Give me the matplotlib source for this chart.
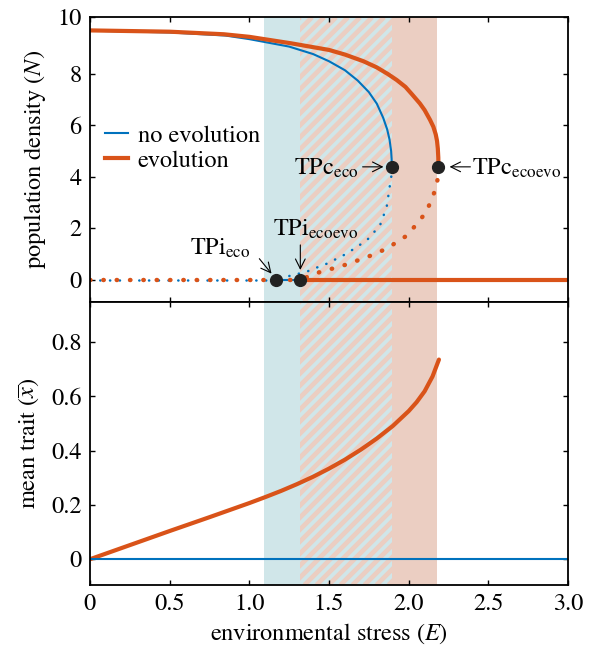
import numpy as np
import matplotlib
matplotlib.use('Agg')
import matplotlib.pyplot as plt
from matplotlib.patches import Rectangle

# ---------------- data ----------------
# no evolution: stable upper branch and unstable (dotted) branch
E_up_noevo = [0.0, 0.5, 0.85, 1.0, 1.25, 1.4, 1.5, 1.6, 1.68, 1.75, 1.80, 1.84, 1.865, 1.88, 1.89, 1.893, 1.894]
N_up_noevo = [9.69, 9.62, 9.5, 9.36, 9.07, 8.78, 8.5, 8.15, 7.75, 7.3, 6.85, 6.3, 5.85, 5.45, 5.0, 4.7, 4.39]
E_lo_noevo = [1.894, 1.892, 1.887, 1.862, 1.82, 1.737, 1.61, 1.486, 1.455, 1.36, 1.255, 1.17]
N_lo_noevo = [4.39, 4.05, 3.87, 2.83, 2.11, 1.53, 1.01, 0.62, 0.55, 0.31, 0.15, 0.0]

# evolution: stable upper branch and unstable (dotted) branch
E_up_evo = [0.0, 0.5, 0.84, 1.0, 1.26, 1.5, 1.6, 1.716, 1.8, 1.87, 1.925, 1.98, 2.02, 2.07,
            2.1, 2.134, 2.155, 2.17, 2.178, 2.183, 2.186, 2.187]
N_up_evo = [9.7, 9.65, 9.55, 9.45, 9.2, 8.94, 8.76, 8.5, 8.26, 8.0, 7.77, 7.5, 7.22, 6.86,
            6.6, 6.22, 5.95, 5.65, 5.4, 5.1, 4.75, 4.39]
E_lo_evo = [2.187, 2.185, 2.176, 2.155, 2.11, 2.06, 1.99, 1.86, 1.74, 1.59, 1.44, 1.32]
N_lo_evo = [4.39, 4.0, 3.74, 3.28, 2.63, 2.24, 1.72, 1.20, 0.88, 0.55, 0.29, 0.0]

# extinction state N = 0
E_axis = [0.0, 3.0]
E_TPi_eco, E_TPi_ecoevo = 1.17, 1.32

# mean trait
E_trait = [0.0, 0.25, 0.5, 0.75, 1.0, 1.1, 1.2, 1.3, 1.4, 1.5, 1.6, 1.7, 1.8, 1.9, 2.0, 2.05, 2.1, 2.15, 2.19]
x_trait = [0.0, 0.052, 0.104, 0.155, 0.207, 0.229, 0.252, 0.277, 0.304, 0.334, 0.367, 0.404,
           0.445, 0.491, 0.546, 0.579, 0.619, 0.674, 0.736]
x_noevo = [0.0, 0.0]

# tipping points
TP_E = [1.17, 1.32, 1.894, 2.187]
TP_N = [0.0, 0.0, 4.39, 4.39]

# shaded regions
teal_region = (1.09, 1.318)
hatch_region = (1.318, 1.894)
orange_region = (1.894, 2.18)

xticks = [0, 0.5, 1.0, 1.5, 2.0, 2.5, 3.0]
xticklabels = ['0', '0.5', '1.0', '1.5', '2.0', '2.5', '3.0']
yticks_top = [0, 2, 4, 6, 8]
yticks_bot = [0, 0.2, 0.4, 0.6, 0.8]
yticklabels_bot = ['0', '0.2', '0.4', '0.6', '0.8']

# ---------------- style ----------------
plt.rcParams['font.family'] = ['STIXGeneral', 'DejaVu Serif']
plt.rcParams['mathtext.fontset'] = 'stix'
FS = 17.5
plt.rcParams['font.size'] = FS

BLUE = '#0072BD'
ORANGE = '#D95319'
TEAL_BG = '#d0e6e9'
ORANGE_BG = '#ebcec2'

W, H = 593, 648
fig = plt.figure(figsize=(W / 100, H / 100), dpi=100)
L = 90 / W
Wd = (568 - 90) / W
ax1 = fig.add_axes([L, 1 - 301.5 / H, Wd, (301.5 - 17.3) / H])
ax2 = fig.add_axes([L, 1 - 585 / H, Wd, (585 - 301.5) / H])

ax1.set_xlim(0, 3)
ax1.set_ylim(-0.85, 10.21)
ax2.set_xlim(0, 3)
ax2.set_ylim(-0.095, 0.95)


def shade(ax):
    ylo, yhi = ax.get_ylim()
    ax.axvspan(*teal_region, color=TEAL_BG, lw=0, zorder=0)
    ax.axvspan(*hatch_region, color=TEAL_BG, lw=0, zorder=0)
    ax.axvspan(*orange_region, color=ORANGE_BG, lw=0, zorder=0)
    # diagonal stripes in the hatched region
    clip = Rectangle((hatch_region[0], ylo), hatch_region[1] - hatch_region[0], yhi - ylo,
                     transform=ax.transData, facecolor='none', edgecolor='none')
    ax.add_patch(clip)
    p0 = ax.transData.transform((0, 0))
    p1 = ax.transData.transform((1, 1))
    px_per_x = p1[0] - p0[0]
    px_per_y = p1[1] - p0[1]
    h_px = (yhi - ylo) * px_per_y
    period = 12.0 / px_per_x
    dx = h_px / px_per_x
    start = hatch_region[0] - dx - period
    for e in np.arange(start, hatch_region[1] + period, period):
        ln, = ax.plot([e, e + dx], [ylo, yhi], color=ORANGE_BG, lw=3.4,
                      solid_capstyle='butt', zorder=0.5)
        ln.set_clip_path(clip)


shade(ax1)
shade(ax2)

# ---------------- top panel ----------------
dot_o = (0, (0.1, 2.9))
dot_b = (0, (0.1, 3.8))
# no-evolution
ax1.plot([E_axis[0], E_TPi_eco], [0, 0], color=BLUE, lw=1.8, ls=dot_b, dash_capstyle='round', zorder=2)
ax1.plot([E_TPi_eco, E_axis[1]], [0, 0], color=BLUE, lw=1.5, zorder=2)
ax1.plot(E_lo_noevo, N_lo_noevo, color=BLUE, lw=1.8, ls=dot_b, dash_capstyle='round', zorder=2)
ax1.plot(E_up_noevo, N_up_noevo, color=BLUE, lw=1.5, zorder=2.2, label='no evolution')
# evolution
ax1.plot([E_axis[0], E_TPi_ecoevo], [0, 0], color=ORANGE, lw=3.2, ls=dot_o, dash_capstyle='round', zorder=2.5)
ax1.plot([E_TPi_ecoevo, E_axis[1]], [0, 0], color=ORANGE, lw=3.0, zorder=2.5)
ax1.plot(E_lo_evo, N_lo_evo, color=ORANGE, lw=3.2, ls=dot_o, dash_capstyle='round', zorder=2.5)
ax1.plot(E_up_evo, N_up_evo, color=ORANGE, lw=3.0, zorder=2.6, label='evolution')
# tipping points
ax1.plot(TP_E, TP_N, 'o', color='#222222', ms=8.5, zorder=5)

leg = ax1.legend(loc='center left', bbox_to_anchor=(0.031, 0.54), frameon=False,
                 handlelength=0.95, handletextpad=0.4, labelspacing=0.12,
                 borderpad=0, borderaxespad=0, fontsize=FS)

arrow = dict(arrowstyle='->', lw=0.8, color='black', shrinkA=0)
# TPc eco
ax1.annotate('', xy=(TP_E[2], TP_N[2]), xytext=(-21, 0), textcoords='offset points',
             arrowprops=dict(arrow, shrinkB=6))
ax1.annotate(r'TPc$_{\mathrm{eco}}$', xy=(TP_E[2], TP_N[2]), xytext=(-24, -6),
             textcoords='offset points', ha='right', va='baseline', fontsize=FS)
# TPc ecoevo
ax1.annotate('', xy=(TP_E[3], TP_N[3]), xytext=(23, 0), textcoords='offset points',
             arrowprops=dict(arrow, shrinkB=8))
ax1.annotate(r'TPc$_{\mathrm{ecoevo}}$', xy=(TP_E[3], TP_N[3]), xytext=(24, -6),
             textcoords='offset points', ha='left', va='baseline', fontsize=FS)
# TPi ecoevo
ax1.annotate('', xy=(TP_E[1], TP_N[1]), xytext=(0, 25), textcoords='offset points',
             arrowprops=dict(arrow, shrinkB=7))
ax1.annotate(r'TPi$_{\mathrm{ecoevo}}$', xy=(TP_E[1], TP_N[1]), xytext=(-20, 31.5),
             textcoords='offset points', ha='left', va='baseline', fontsize=FS)
# TPi eco
ax1.annotate('', xy=(TP_E[0], TP_N[0]), xytext=(-12.3, 15.1), textcoords='offset points',
             arrowprops=dict(arrow, shrinkB=5.6))
ax1.annotate(r'TPi$_{\mathrm{eco}}$', xy=(TP_E[0], TP_N[0]), xytext=(-62, 17.8),
             textcoords='offset points', ha='left', va='baseline', fontsize=FS)

ax1.set_yticks(yticks_top + [10.21])
ax1.set_yticklabels([str(t) for t in yticks_top] + ['10'])
ax1.set_xticks(xticks)
ax1.set_xticklabels([])
ax1.set_ylabel(r'population density ($N$)', fontsize=FS, labelpad=7)

# ---------------- bottom panel ----------------
ax2.plot(E_trait, x_trait, color=ORANGE, lw=3.0, zorder=2, solid_capstyle='round')
ax2.plot(E_axis, x_noevo, color=BLUE, lw=1.5, zorder=3)
ax2.set_xticks(xticks)
ax2.set_xticklabels(xticklabels)
ax2.set_yticks(yticks_bot)
ax2.set_yticklabels(yticklabels_bot)
ax2.set_ylabel(r'mean trait ($\overline{x}$)', fontsize=FS, labelpad=7)
ax2.set_xlabel(r'environmental stress ($E$)', fontsize=FS, labelpad=5)

for ax in (ax1, ax2):
    for s in ax.spines.values():
        s.set_linewidth(1.3)
        s.set_zorder(6)
    ax.tick_params(which='both', direction='in', top=True, right=True,
                   length=3.8, width=1.0, pad=6, labelsize=FS)

fig.savefig('out.png', dpi=100)
